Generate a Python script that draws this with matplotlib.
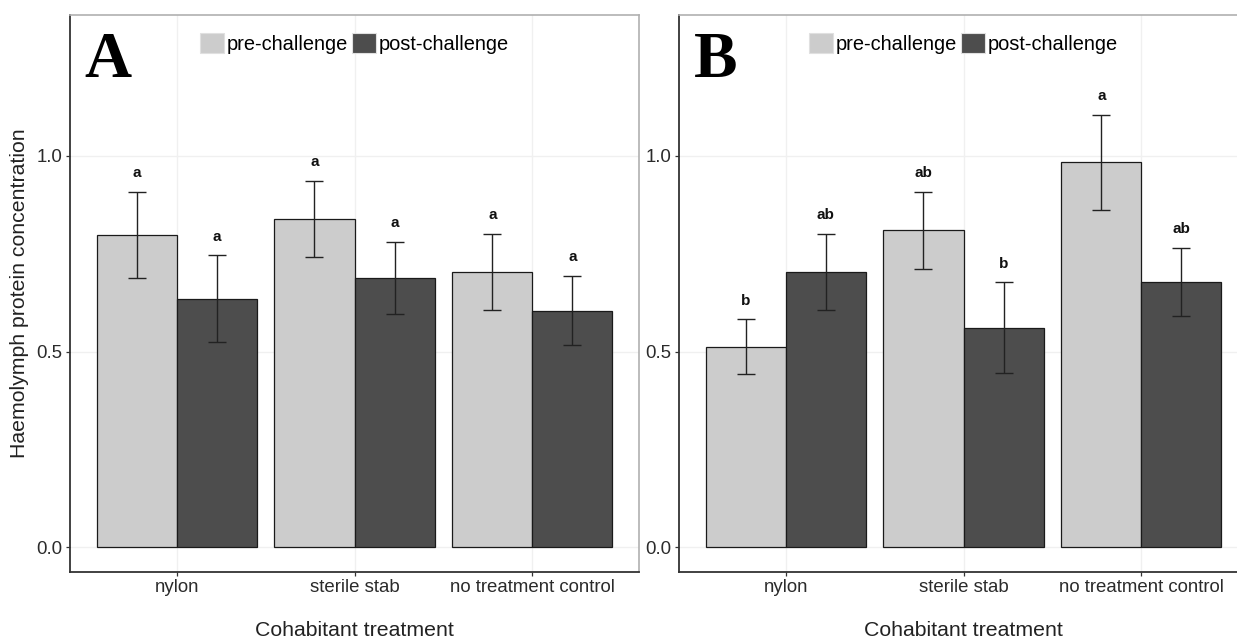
import matplotlib
matplotlib.use("Agg")
import matplotlib.pyplot as plt
from matplotlib.patches import Patch
import numpy as np

plt.rcParams['font.family'] = ['Liberation Sans', 'DejaVu Sans']

# ---------------------------------------------------------------------------
# Data: haemolymph protein means and standard errors per cohabitant treatment
# ---------------------------------------------------------------------------
categories = ['nylon', 'sterile stab', 'no treatment control']

a_pre = [0.799, 0.840, 0.704]
a_pre_se = [0.110, 0.097, 0.097]
a_post = [0.635, 0.688, 0.605]
a_post_se = [0.111, 0.093, 0.089]
a_pre_letters = ['a', 'a', 'a']
a_post_letters = ['a', 'a', 'a']

b_pre = [0.513, 0.810, 0.984]
b_pre_se = [0.070, 0.098, 0.121]
b_post = [0.704, 0.561, 0.678]
b_post_se = [0.097, 0.116, 0.087]
b_pre_letters = ['b', 'ab', 'a']
b_post_letters = ['ab', 'b', 'ab']

series_names = ['pre-challenge', 'post-challenge']
fills = ['#cccccc', '#4d4d4d']

W, H = 1237, 643
fig = plt.figure(figsize=(W / 100, H / 100), dpi=100)

ax_w = 569 / W
ax_h = (571.7 - 15) / H
ax_b = 1 - 571.7 / H
axA = fig.add_axes([70 / W, ax_b, ax_w, ax_h])
axB = fig.add_axes([679 / W, ax_b, ax_w, ax_h])


def draw_panel(ax, pre, pre_se, post, post_se, pre_lab, post_lab, tag):
    x = np.arange(1, len(categories) + 1)
    bw = 0.45
    for vals, errs, labs, off, col in [(pre, pre_se, pre_lab, -bw / 2, fills[0]),
                                       (post, post_se, post_lab, bw / 2, fills[1])]:
        ax.bar(x + off, vals, width=bw, color=col, edgecolor='#1a1a1a',
               linewidth=0.9, zorder=2)
        ax.errorbar(x + off, vals, yerr=errs, fmt='none', ecolor='#222222',
                    elinewidth=1.0, capsize=6.5, capthick=1.0, zorder=3)
        for xi, v, e, t in zip(x + off, vals, errs, labs):
            ax.text(xi, v + e + 0.037, t, ha='center', va='baseline',
                    fontsize=11, fontweight='bold', color='#111111', zorder=4)

    ax.set_xlim(0.4, 3.6)
    ax.set_ylim(-0.062, 1.36)
    ax.set_xticks(x)
    ax.set_xticklabels(categories)
    ax.set_yticks([0.0, 0.5, 1.0])
    ax.set_yticklabels(['0.0', '0.5', '1.0'])
    ax.tick_params(axis='both', length=3, width=0.9, color='#333333',
                   labelsize=13.4, labelcolor='#2b2b2b', pad=2.5)
    ax.grid(True, color='#f0f0f0', linewidth=1.0, zorder=0)
    ax.set_axisbelow(True)

    for side in ['top', 'right']:
        ax.spines[side].set_color('#b0b0b0')
        ax.spines[side].set_linewidth(1.2)
    for side in ['left', 'bottom']:
        ax.spines[side].set_color('#333333')
        ax.spines[side].set_linewidth(1.3)

    ax.set_xlabel('Cohabitant treatment', fontsize=15.3, color='#222222',
                  labelpad=18)

    ax.text(0.026, 0.889, tag, transform=ax.transAxes, ha='left',
            va='baseline', fontsize=47, fontweight='bold',
            family=['Liberation Serif', 'DejaVu Serif'], color='black')

    handles = [Patch(facecolor=fills[0], edgecolor='#e0e0e0', linewidth=0.8),
               Patch(facecolor=fills[1], edgecolor='#e0e0e0', linewidth=0.8)]
    ax.legend(handles, series_names, loc='center', bbox_to_anchor=(0.5, 0.949),
              ncol=2, frameon=False, fontsize=14.4, handlelength=1.2,
              handleheight=1.15, handletextpad=0.15, columnspacing=0.2,
              borderpad=0, borderaxespad=0)


draw_panel(axA, a_pre, a_pre_se, a_post, a_post_se, a_pre_letters, a_post_letters, 'A')
draw_panel(axB, b_pre, b_pre_se, b_post, b_post_se, b_pre_letters, b_post_letters, 'B')

axA.set_ylabel('Haemolymph protein concentration', fontsize=15.3,
               color='#222222', labelpad=5)

fig.savefig('out.png', dpi=100)
